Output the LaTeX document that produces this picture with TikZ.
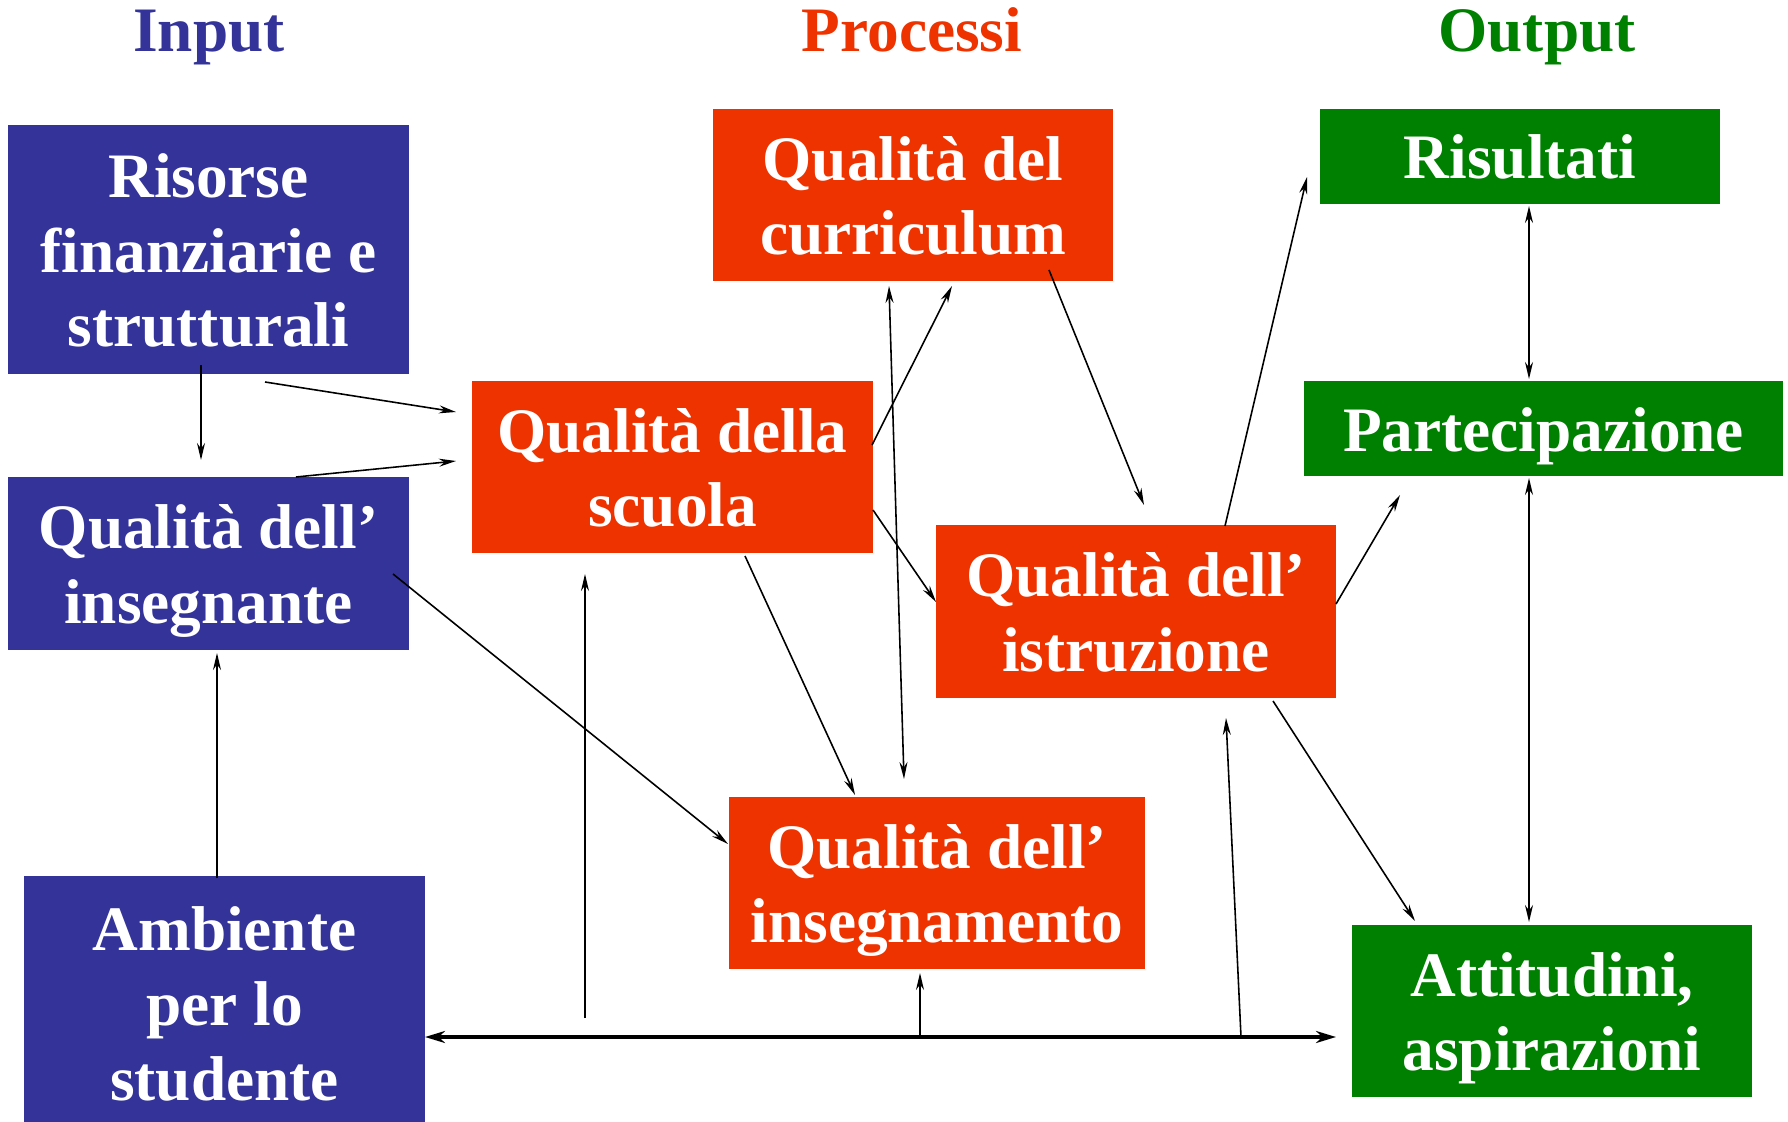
\documentclass[tikz,border=0pt]{standalone}
\usepackage{fontspec}
\setmainfont{Liberation Serif}
\usetikzlibrary{arrows.meta}

\definecolor{inblue}{RGB}{51,51,153}
\definecolor{procred}{RGB}{238,51,0}
\definecolor{outgreen}{RGB}{0,128,0}

\begin{document}
\begin{tikzpicture}[
        x=0.01cm, y=-0.01cm,
        box node/.style={rectangle, inner sep=0pt, text=white, align=center,
            font=\bfseries\fontsize{18}{21.3}\selectfont,
            text height=39.1pt, text depth=5pt,
            minimum width=4cm, minimum height=1.72cm},
        one line/.style={text height=17.8pt, minimum height=0.95cm},
        three lines/.style={text height=60.4pt},
        in node/.style={box node, fill=inblue},
        proc node/.style={box node, fill=procred},
        out node/.style={box node, fill=outgreen},
        head node/.style={anchor=base, font=\bfseries\fontsize{18}{21.3}\selectfont},
        link/.style={line width=0.45pt, -{Stealth[length=1.7mm, width=0.8mm]}},
        dlink/.style={line width=0.45pt, {Stealth[length=1.7mm, width=0.8mm]}-{Stealth[length=1.7mm, width=0.8mm]}},
    ]

    \clip (0,0) rectangle (1788,1122);

    \node[head node, text=inblue] (hin) at (209,52) {Input};
    \node[head node, text=procred] (hproc) at (912,52) {Processi};
    \node[head node, text=outgreen] (hout) at (1537,52) {Output};

    \node[in node, three lines, minimum height=2.49cm] (risorse) at (208.5,249.5) {Risorse\\finanziarie e\\strutturali};
    \node[in node, minimum height=1.73cm] (insegnante) at (208.5,563.5) {Qualità dell’\\insegnante};
    \node[in node, three lines, minimum height=2.53cm] (ambiente) at (224.5,1003) {Ambiente\\per lo\\studente};

    \node[proc node] (curriculum) at (913,195) {Qualità del\\curriculum};
    \node[proc node] (scuola) at (672.5,467) {Qualità della\\scuola};
    \node[proc node] (istruzione) at (1136,611.5) {Qualità dell’\\istruzione};
    \node[proc node, minimum width=4.16cm] (insegnamento) at (937,883) {Qualità dell’\\insegnamento};

    \node[out node, one line] (risultati) at (1520,156.5) {Risultati};
    \node[out node, one line, minimum width=4.79cm] (partecipazione) at (1543.5,428.5) {Partecipazione};
    \node[out node] (attitudini) at (1552,1011) {Attitudini,\\aspirazioni};

    % arrow ends
    \coordinate (ris2ins t) at (201,365);   \coordinate (ris2ins h) at (201,460);
    \coordinate (ris2sc t) at (265,382);    \coordinate (ris2sc h) at (456,412);
    \coordinate (ins2sc t) at (296,477);    \coordinate (ins2sc h) at (456,461);
    \coordinate (ins2ism t) at (393,574);   \coordinate (ins2ism h) at (728,844);
    \coordinate (amb2ins t) at (217,878);   \coordinate (amb2ins h) at (217,653);
    \coordinate (amb2sc t) at (585,1018);   \coordinate (amb2sc h) at (585,574);
    \coordinate (ambL) at (425,1037);       \coordinate (ambR) at (1336,1037);
    \coordinate (amb2ism t) at (920,1037);  \coordinate (amb2ism h) at (920,973);
    \coordinate (amb2ist t) at (1241,1037); \coordinate (amb2ist h) at (1226,718);
    \coordinate (sc2cur t) at (872,445);    \coordinate (sc2cur h) at (952,286);
    \coordinate (cur2ism a) at (889,286);   \coordinate (cur2ism b) at (904,779);
    \coordinate (cur2ist t) at (1049,270);  \coordinate (cur2ist h) at (1144,505);
    \coordinate (sc2ist t) at (873,510);    \coordinate (sc2ist h) at (936,602);
    \coordinate (sc2ism t) at (745,556);    \coordinate (sc2ism h) at (855,795);
    \coordinate (ist2ris t) at (1225,526);  \coordinate (ist2ris h) at (1307,177);
    \coordinate (ist2par t) at (1336,604);  \coordinate (ist2par h) at (1400,495);
    \coordinate (ist2att t) at (1273,701);  \coordinate (ist2att h) at (1415,921);
    \coordinate (ris2par a) at (1529,206);  \coordinate (ris2par b) at (1529,379);
    \coordinate (par2att a) at (1529,478);  \coordinate (par2att b) at (1529,922);

    \draw[link] (ris2ins t) -- (ris2ins h);
    \draw[link] (ris2sc t) -- (ris2sc h);
    \draw[link] (ins2sc t) -- (ins2sc h);
    \draw[link] (ins2ism t) -- (ins2ism h);
    \draw[link] (amb2ins t) -- (amb2ins h);
    \draw[link] (amb2sc t) -- (amb2sc h);
    \draw[line width=1pt, {Stealth[length=2mm, width=1.2mm]}-{Stealth[length=2mm, width=1.2mm]}] (ambL) -- (ambR);
    \draw[link] (amb2ism t) -- (amb2ism h);
    \draw[link] (amb2ist t) -- (amb2ist h);
    \draw[link] (sc2cur t) -- (sc2cur h);
    \draw[dlink] (cur2ism a) -- (cur2ism b);
    \draw[link] (cur2ist t) -- (cur2ist h);
    \draw[link] (sc2ist t) -- (sc2ist h);
    \draw[link] (sc2ism t) -- (sc2ism h);
    \draw[link] (ist2ris t) -- (ist2ris h);
    \draw[link] (ist2par t) -- (ist2par h);
    \draw[link] (ist2att t) -- (ist2att h);
    \draw[dlink] (ris2par a) -- (ris2par b);
    \draw[dlink] (par2att a) -- (par2att b);
\end{tikzpicture}
\end{document}
